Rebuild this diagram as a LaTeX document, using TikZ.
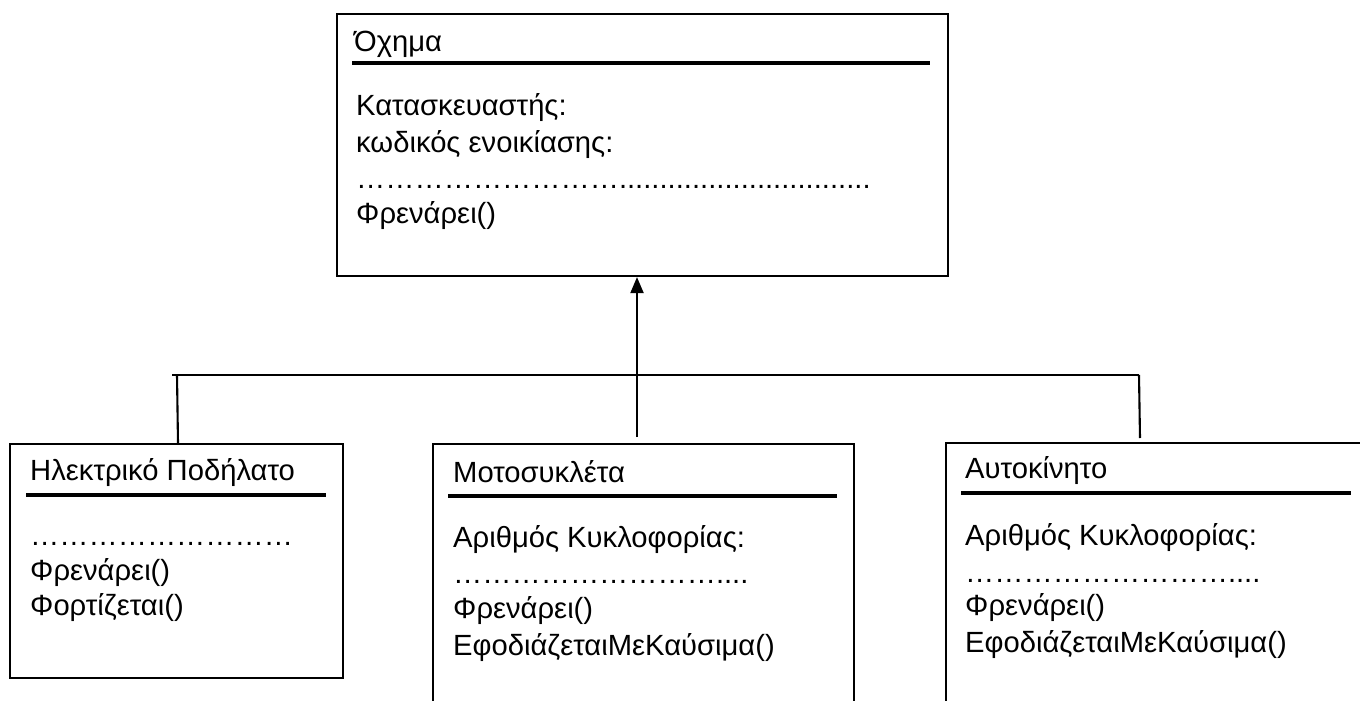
\documentclass[tikz,border=0pt]{standalone}
\usepackage{fontspec}
\setmainfont{Liberation Sans}
\usetikzlibrary{arrows.meta}
\begin{document}
\begin{tikzpicture}[x=1pt,y=-1pt,
  classbox/.style={draw, line width=2.1pt, rectangle, inner sep=0pt, anchor=north west},
  txt/.style={anchor=base west, inner sep=0pt, font=\fontsize{29.2}{34}\selectfont},
  rule/.style={line width=3.6pt},
  conn/.style={line width=2.1pt},
  arr/.style={conn, -{Triangle[length=16pt,width=13pt]}}]
\useasboundingbox (0,0) rectangle (1360,701);
\clip (0,0) rectangle (1360,701);
% boxes
\node[classbox, minimum width=611pt, minimum height=262pt] (ochima) at (336,13) {};
\node[classbox, minimum width=333pt, minimum height=234pt] (bike) at (9,443) {};
\node[classbox, minimum width=421pt, minimum height=300pt] (moto) at (432,443) {};
\node[classbox, minimum width=450pt, minimum height=300pt] (car) at (945,442) {};
% Όχημα
\node[txt] (t0) at (354,52) {Όχημα};
\draw[rule] (352,63) -- (930,63);
\node[txt] (t1) at (356,115) {Κατασκευαστής:};
\node[txt] (t2) at (356,152) {κωδικός ενοικίασης:};
\node[txt] (t3) at (356,188) {………………………...............................};
\node[txt] (t4) at (356,223) {Φρενάρει()};
% Ηλεκτρικό Ποδήλατο
\node[txt] (b0) at (30,480) {Ηλεκτρικό Ποδήλατο};
\draw[rule] (26,495) -- (326,495);
\node[txt] (b1) at (30,545) {………………………};
\node[txt] (b2) at (30,580) {Φρενάρει()};
\node[txt] (b3) at (30,615) {Φορτίζεται()};
% Μοτοσυκλέτα
\node[txt] (m0) at (453,482) {Μοτοσυκλέτα};
\draw[rule] (448,496) -- (837,496);
\node[txt] (m1) at (453,547) {Αριθμός Κυκλοφορίας:};
\node[txt] (m2) at (453,583) {………………………....};
\node[txt] (m3) at (453,618) {Φρενάρει()};
\node[txt] (m4) at (453,655) {ΕφοδιάζεταιΜεΚαύσιμα()};
% Αυτοκίνητο
\node[txt] (c0) at (965,478) {Αυτοκίνητο};
\draw[rule] (961,493) -- (1351,493);
\node[txt] (c1) at (965,545) {Αριθμός Κυκλοφορίας:};
\node[txt] (c2) at (965,582) {………………………....};
\node[txt] (c3) at (965,615) {Φρενάρει()};
\node[txt] (c4) at (965,652) {ΕφοδιάζεταιΜεΚαύσιμα()};
% connectors
\coordinate (hl) at (172,375);
\coordinate (hr) at (1139,375);
\coordinate (bikeTop) at (178,443);
\coordinate (motoTop) at (637,437);
\coordinate (carTop) at (1140,438);
\draw[conn] (hl) -- (hr);
\draw[conn] (hl -| 177,0) -- (bikeTop);
\draw[conn] (hr) -- (carTop);
\draw[arr] (motoTop) -- (motoTop |- ochima.south);
\end{tikzpicture}
\end{document}
